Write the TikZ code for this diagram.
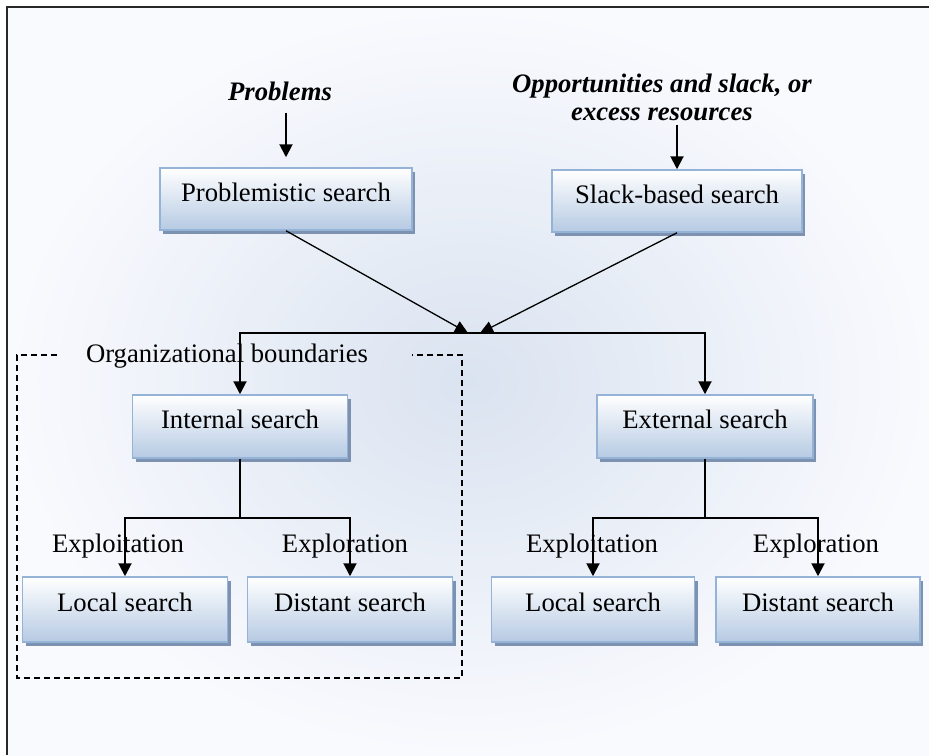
\documentclass[tikz,border=0pt]{standalone}
\usepackage{fontspec}
\setmainfont{Liberation Serif}
\usetikzlibrary{arrows.meta,shadows}
\definecolor{boxedge}{RGB}{149,179,215}
\definecolor{boxbot}{RGB}{182,202,227}
\definecolor{shad}{RGB}{125,145,176}
\definecolor{bgin}{RGB}{218,227,240}
\definecolor{bgout}{RGB}{249,250,254}
\definecolor{framec}{RGB}{40,40,40}
\begin{document}
\begin{tikzpicture}[x=1pt,y=-1pt,
  sbox/.style={draw=boxedge, line width=1.5pt, top color=white, bottom color=boxbot,
    inner sep=0pt, text height=18pt, text depth=14pt,
    font=\fontsize{26.7}{30}\selectfont,
    drop shadow={shadow xshift=3pt, shadow yshift=-4pt, fill=shad, opacity=1}},
  lab/.style={inner sep=2pt, font=\fontsize{26.7}{26}\selectfont},
  blab/.style={inner sep=2pt, font=\fontsize{26.7}{28}\selectfont\bfseries\itshape},
  conn/.style={line width=2pt, black},
  arr/.style={conn, -{Triangle[length=13pt,width=13pt]}},
  diag/.style={line width=1.3pt, black, -{Triangle[length=13pt,width=12pt]}},
  dashbox/.style={line width=1.3pt, black, dash pattern=on 6pt off 4pt}
]
\useasboundingbox (0,0) rectangle (929,755);
\fill[white] (0,0) rectangle (929,755);
\shade[inner color=bgin, outer color=bgout] (8,8) rectangle (929,755);
\draw[framec, line width=2pt] (7,755) -- (7,7) -- (929,7);

% organisational boundary
\draw[dashbox] (57,355) -- (17,355) -- (17,678) -- (462,678) -- (462,355) -- (412,355);
\node[lab, anchor=base] (orgb) at (227,362) {Organizational boundaries};

% top labels
\node[blab, anchor=base] (problems) at (280,100) {Problems};
\node[blab, align=center] (opp) at (662,97) {Opportunities and slack, or\\excess resources};

% branch labels
\node[lab, anchor=base] (lexploit) at (118,552) {Exploitation};
\node[lab, anchor=base] (lexplore) at (345,552) {Exploration};
\node[lab, anchor=base] (rexploit) at (592,552) {Exploitation};
\node[lab, anchor=base] (rexplore) at (816,552) {Exploration};

% boxes
\node[sbox, minimum width=252pt, minimum height=62pt] (prob) at (286,199) {Problemistic search};
\node[sbox, minimum width=250pt, minimum height=62pt] (slack) at (677,201) {Slack-based search};
\node[sbox, minimum width=215pt, minimum height=63pt] (int) at (240,426.5) {Internal search};
\node[sbox, minimum width=216pt, minimum height=63pt] (ext) at (705,426.5) {External search};
\node[sbox, minimum width=205pt, minimum height=65pt] (lloc) at (125,609.5) {Local search};
\node[sbox, minimum width=205pt, minimum height=65pt] (ldist) at (350,609.5) {Distant search};
\node[sbox, minimum width=203pt, minimum height=65pt] (rloc) at (593,609.5) {Local search};
\node[sbox, minimum width=204pt, minimum height=65pt] (rdist) at (818,609.5) {Distant search};

% connectors
\draw[arr, shorten <=10pt, shorten >=10pt] (problems.south -| prob.north) -- (prob.north);
\draw[arr, shorten <=2pt] (opp.south -| slack.north) -- (slack.north);

\coordinate (hub) at (474,333);
\coordinate (hubl) at (468,333);
\coordinate (hubr) at (480,333);
\draw[diag] (prob.south) -- (hubl);
\draw[diag] (slack.south) -- (hubr);
\draw[arr] (hub) -| (int.north);
\draw[arr] (hub) -| (ext.north);

\draw[conn] (int.south) -- ++(0,59) coordinate (ib);
\draw[arr] (ib) -| (lloc.north);
\draw[arr] (ib) -| (ldist.north);
\draw[conn] (ext.south) -- ++(0,59) coordinate (eb);
\draw[arr] (eb) -| (rloc.north);
\draw[arr] (eb) -| (rdist.north);
\end{tikzpicture}
\end{document}
